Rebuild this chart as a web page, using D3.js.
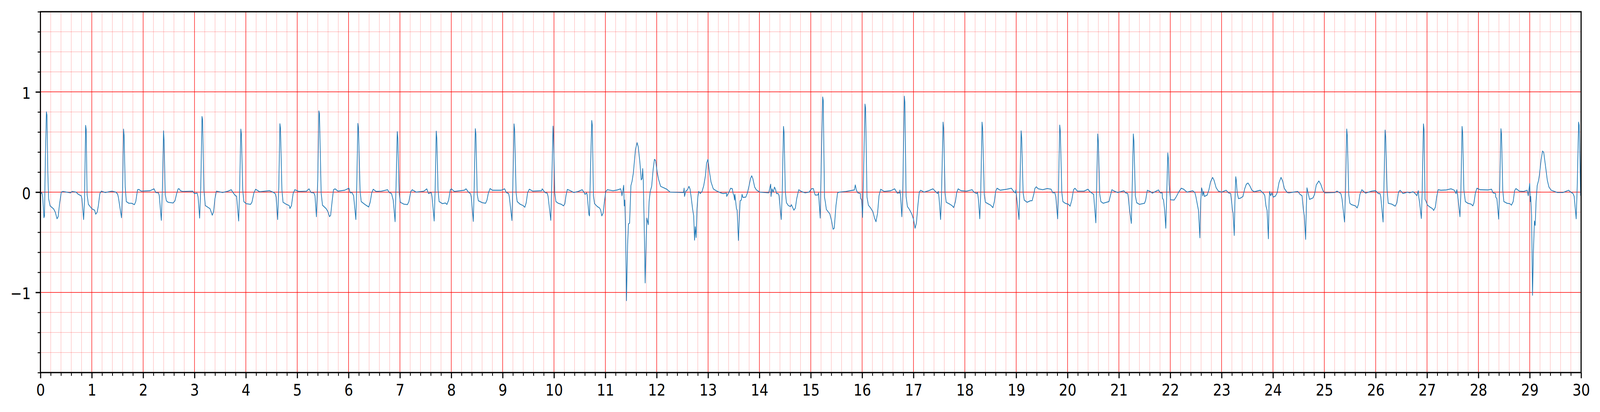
<!DOCTYPE html>
<html lang="en">
<head>
<meta charset="UTF-8">
<title>ECG strip</title>
<style>
  * { margin: 0; padding: 0; }
  html, body { width: 100%; height: 100%; overflow: hidden; background: #fff; }
  svg { display: block; width: 100vw; height: 100vh; font-family: "DejaVu Sans", sans-serif; }
</style>
</head>
<body>
<svg id="chart" viewBox="0 0 4827 1055" preserveAspectRatio="none"></svg>
<script src="https://cdn.jsdelivr.net/npm/d3@7/dist/d3.min.js"></script>
<script>
const ecg00 = [[0.007,-0.014],[0.028,-0.004],[0.044,-0.05],[0.068,-0.255],[0.079,-0.237],[0.096,0.338],[0.116,0.801],[0.127,0.77],[0.144,0.194],[0.159,-0.065],[0.188,-0.137],[0.258,-0.168],[0.29,-0.201],[0.323,-0.266],[0.345,-0.245],[0.371,-0.122],[0.406,0],[0.437,0.007],[0.585,-0.007],[0.618,0.007],[0.694,0],[0.738,-0.022],[0.793,-0.036],[0.808,-0.065],
  [0.841,-0.273],[0.858,-0.09],[0.88,0.666],[0.891,0.626],[0.908,-0.022],[0.934,-0.122],[1.0,-0.165],[1.055,-0.18],[1.076,-0.22],[1.105,-0.2],[1.127,-0.137],[1.157,-0.014],[1.186,0.01],[1.262,-0.004],[1.393,0.01],[1.469,0],[1.502,-0.019],[1.517,-0.05],
  [1.579,-0.255],[1.601,0.05],[1.618,0.629],[1.629,0.568],[1.651,0.05],[1.672,-0.094],[1.721,-0.111],[1.776,-0.111],[1.83,-0.125],[1.856,-0.094],[1.891,0.024],[1.917,0.027],[1.961,0.01],[2.135,0.014],[2.212,0.033],[2.245,-0.004],[2.299,-0.007],[2.314,-0.036],
  [2.354,-0.281],[2.376,0.05],[2.397,0.612],[2.408,0.511],[2.43,-0.022],[2.452,-0.086],[2.485,-0.101],[2.583,-0.108],[2.62,-0.086],[2.649,-0.022],[2.681,0.033],[2.703,0.033],[2.725,0.014],[2.769,0.007],[2.965,0.01],[2.998,-0.014],[3.052,-0.01],[3.07,-0.05],
  [3.1,-0.259],[3.122,0.05],[3.146,0.755],[3.157,0.727],[3.183,0.022],[3.21,-0.134],[3.282,-0.158]];

const ecg03 = [[3.302,-0.165],[3.346,-0.23],[3.372,-0.194],[3.398,-0.065],[3.426,0.01],[3.546,-0.004],[3.655,0.01],[3.716,0.024],[3.754,-0.007],[3.797,-0.036],[3.819,-0.04],
  [3.86,-0.288],[3.88,0.05],[3.902,0.629],[3.913,0.583],[3.939,0.022],[3.961,-0.094],[4.004,-0.115],[4.092,-0.122],[4.118,-0.101],[4.157,-0.007],[4.19,0.029],[4.266,0.004],[4.462,0.014],[4.528,0],[4.571,-0.014],[4.589,-0.05],
  [4.619,-0.273],[4.641,0.05],[4.663,0.683],[4.674,0.64],[4.702,0.022],[4.724,-0.101],[4.79,-0.122],[4.844,-0.134],[4.859,-0.163],[4.888,-0.134],[4.92,-0.014],[4.953,0.024],[5.029,0.007],[5.182,0.01],[5.23,0.033],[5.269,-0.004],[5.324,-0.007],[5.346,-0.036],
  [5.374,-0.245],[5.4,0.122],[5.422,0.81],[5.433,0.784],[5.466,-0.007],[5.492,-0.13],[5.564,-0.165],[5.597,-0.194],[5.629,-0.245],[5.651,-0.23],[5.679,-0.094],[5.706,0.024],[5.738,0.033],[5.793,0.01],[5.924,0.019],[6.007,0.039],[6.033,-0.007],[6.066,-0.004],[6.098,-0.036],
  [6.142,-0.273],[6.159,0.05],[6.181,0.686],[6.192,0.64],[6.225,0.007],[6.246,-0.094],[6.316,-0.122],[6.392,-0.148],[6.421,-0.101],[6.451,-0.007],[6.48,0.029],[6.534,0.007]];

const ecg06 = [[6.639,0.01],[6.684,0.015],[6.76,0.024],[6.793,-0.004],[6.836,-0.014],[6.869,-0.079],
  [6.906,-0.295],[6.924,0.05],[6.948,0.604],[6.959,0.54],[6.985,-0.007],[7.007,-0.101],[7.076,-0.12],[7.146,-0.125],[7.174,-0.094],[7.212,0.007],[7.24,0.024],[7.316,0],[7.469,0.01],[7.523,0.033],[7.556,-0.014],[7.611,-0.004],[7.626,-0.05],
  [7.667,-0.288],[7.687,0.05],[7.707,0.609],[7.718,0.54],[7.742,0.022],[7.763,-0.094],[7.829,-0.115],[7.883,-0.108],[7.916,-0.122],[7.949,-0.079],[7.981,0.024],[8.003,0.033],[8.058,0.007],[8.254,0.019],[8.287,0.033],[8.341,-0.004],[8.374,-0.014],[8.389,-0.05],
  [8.429,-0.292],[8.446,0.05],[8.468,0.633],[8.479,0.583],[8.505,-0.022],[8.527,-0.086],[8.603,-0.105],[8.668,-0.111],[8.695,-0.079],[8.723,-0.007],[8.756,0.036],[8.8,0.019],[8.974,0.019],[9.039,0.033],[9.072,-0.004],[9.116,-0.014],[9.131,-0.05],
  [9.181,-0.283],[9.198,0.05],[9.222,0.681],[9.233,0.626],[9.262,-0.007],[9.283,-0.094],[9.344,-0.122],[9.399,-0.134],[9.432,-0.151],[9.458,-0.108],[9.486,-0.007],[9.519,0.029],[9.584,0.01],[9.759,0.014],[9.77,0.033],[9.825,-0.004],[9.868,-0.01],[9.885,-0.043],
  [9.938,-0.281],[9.955,0.05],[9.981,0.658],[9.989,0.597]];

const ecg10 = [[10.015,-0.007],[10.037,-0.094],[10.081,-0.111],[10.146,-0.122],[10.185,-0.137],[10.212,-0.115],[10.233,-0.036],[10.26,0.027],[10.299,0.019],[10.386,-0.004],[10.473,0.007],[10.55,0.024],[10.582,0],[10.604,-0.022],[10.637,-0.007],[10.648,-0.036],
  [10.68,-0.223],[10.691,-0.237],[10.709,0.194],[10.735,0.715],[10.746,0.669],[10.768,-0.036],[10.79,-0.115],[10.844,-0.144],[10.888,-0.158],[10.909,-0.18],[10.931,-0.237],[10.957,-0.209],[10.979,-0.108],[11.008,0.007],[11.04,0.024],[11.149,0.014],[11.237,0.022],[11.298,0.033],[11.313,0],[11.324,-0.036],[11.341,0.014],[11.357,0.068],[11.368,-0.137],[11.379,-0.079],[11.394,-0.381],[11.411,-1.083],[11.433,-0.525],[11.45,-0.317],[11.472,-0.309],[11.498,0.065],[11.52,0.108],[11.546,0.194],[11.586,0.424],[11.618,0.494],[11.64,0.453],[11.673,0.295],[11.699,0.122],[11.716,0.137],[11.727,0.235],[11.738,0.122],[11.756,-0.309],[11.775,-0.906],[11.793,-0.525],[11.808,-0.259],[11.836,-0.324],[11.852,-0.094],[11.874,0.007],[11.902,0.058],[11.93,0.223],[11.956,0.327],[11.978,0.317],[12.011,0.194],[12.039,0.122],[12.076,0.058],[12.196,0.029],[12.262,0],[12.523,-0.004],[12.534,0.04],[12.541,-0.043],[12.567,0.01],[12.6,0.024],[12.628,0.058],[12.65,0.029],[12.671,-0.05],[12.698,-0.165],[12.72,-0.237],[12.737,-0.479],[12.752,-0.345],[12.768,-0.453],[12.785,-0.165],[12.802,-0.043],[12.818,0.007],[12.85,-0.014],[12.883,0.007],[12.916,0.065],[12.949,0.165],[12.971,0.288],[12.997,0.327],[13.025,0.209],[13.058,0.101],[13.102,0.033],[13.157,0.014],[13.244,-0.007]];

const ecg13 = [[13.287,-0.014],[13.36,-0.01],[13.363,-0.043],[13.407,0],[13.44,0.039],[13.473,0.033],[13.488,-0.014],[13.505,-0.036],[13.516,-0.079],[13.522,-0.022],[13.538,-0.094],[13.553,-0.165],[13.566,-0.18],[13.592,-0.482],[13.61,-0.237],[13.625,-0.086],[13.647,-0.079],[13.662,-0.022],[13.679,-0.053],[13.734,-0.05],[13.767,-0.007],[13.799,0.065],[13.828,0.137],[13.85,0.163],[13.871,0.137],[13.908,0.05],[13.941,0.022],[14.007,0],[14.181,-0.007],[14.22,0.079],[14.226,-0.043],[14.246,0.033],[14.268,0],[14.294,0.05],[14.316,0.024],[14.334,-0.014],[14.366,-0.014],[14.382,-0.036],
  [14.425,-0.273],[14.443,-0.022],[14.469,0.655],[14.48,0.597],[14.504,0.007],[14.526,-0.105],[14.563,-0.134],[14.606,-0.144],[14.622,-0.125],[14.672,-0.18],[14.7,-0.158],[14.726,-0.065],[14.766,0.024],[14.814,0.007],[14.89,-0.007],[14.967,0],[15.014,0.033],[15.049,0.036],[15.086,-0.029],[15.136,-0.029],[15.152,-0.007],[15.162,-0.094],
  [15.184,-0.259],[15.206,0.338],[15.232,0.95],[15.243,0.914],[15.267,-0.05],[15.282,-0.094],[15.304,-0.173],[15.37,-0.216],[15.403,-0.281],[15.435,-0.37],[15.457,-0.36],[15.49,-0.137],[15.522,-0.007],[15.555,0],[15.686,0.007],[15.817,0.019],[15.85,0.022],[15.867,0.072],[15.887,0.022],[15.915,-0.007],[15.966,-0.014],[15.968,-0.058],[15.99,-0.079],
  [16.008,-0.252],[16.025,0.122],[16.056,0.878],[16.067,0.842],[16.095,-0.05],[16.122,-0.13],[16.165,-0.158],[16.209,-0.194],[16.242,-0.259],[16.27,-0.295],[16.301,-0.209],[16.329,-0.036],[16.362,0.029],[16.427,0.007],[16.558,0.014],[16.634,0.033],[16.667,0.005]];

const ecg16 = [[16.682,-0.01],[16.73,-0.007],[16.735,0.02],[16.747,-0.029],
  [16.773,-0.245],[16.791,-0.022],[16.821,0.957],[16.832,0.9],[16.856,-0.043],[16.882,-0.144],[16.921,-0.173],[16.965,-0.216],[16.998,-0.266],[17.031,-0.36],[17.057,-0.309],[17.085,-0.137],[17.113,0],[17.14,0.019],[17.205,0],[17.292,0.014],[17.379,0.033],[17.423,0.01],[17.467,-0.014],[17.484,0.007],[17.499,-0.065],
  [17.528,-0.273],[17.543,-0.09],[17.576,0.698],[17.587,0.64],[17.615,-0.007],[17.637,-0.101],[17.707,-0.12],[17.75,-0.134],[17.783,-0.154],[17.816,-0.094],[17.844,0],[17.87,0.033],[17.925,0.014],[18.034,0.01],[18.143,0.024],[18.176,0],[18.23,-0.014],[18.245,0],[18.263,-0.065],
  [18.291,-0.266],[18.309,-0.022],[18.335,0.698],[18.346,0.64],[18.378,-0.022],[18.4,-0.101],[18.448,-0.115],[18.503,-0.13],[18.546,-0.155],[18.575,-0.094],[18.601,0.01],[18.627,0.039],[18.688,0.019],[18.819,0.029],[18.906,0.039],[18.95,0.007],[18.983,-0.007],[18.996,0.022],[19.008,-0.05],
  [19.055,-0.273],[19.072,0.05],[19.096,0.612],[19.107,0.54],[19.135,-0.007],[19.157,-0.079],[19.212,-0.101],[19.277,-0.086],[19.31,-0.086],[19.342,-0.022],[19.364,0.036],[19.39,0.053],[19.43,0.033],[19.517,0.024],[19.604,0.036],[19.68,0.029],[19.713,-0.007],[19.752,-0.004],[19.772,-0.05],
  [19.807,-0.266],[19.822,-0.022],[19.848,0.669],[19.859,0.612],[19.888,0],[19.909,-0.094],[19.953,-0.111],[20.019,-0.122]];

const ecg20 = [[20.05,-0.14],[20.083,-0.079],[20.115,0.022],[20.144,0.039],[20.192,0.01],[20.322,0.01],[20.399,0.029],[20.431,0.007],[20.486,-0.014],[20.508,-0.022],
  [20.529,-0.165],[20.551,-0.306],[20.566,0.05],[20.588,0.58],[20.599,0.511],[20.627,-0.022],[20.649,-0.094],[20.693,-0.111],[20.758,-0.101],[20.806,-0.094],[20.834,-0.036],[20.863,0.024],[20.911,0.01],[20.976,-0.004],[21.096,0.014],[21.129,-0.007],[21.172,-0.014],[21.183,-0.05],
  [21.205,-0.165],[21.242,-0.312],[21.259,0.05],[21.281,0.58],[21.292,0.511],[21.32,-0.036],[21.346,-0.105],[21.401,-0.122],[21.499,-0.111],[21.521,-0.079],[21.553,0.019],[21.608,0.007],[21.651,-0.01],[21.771,0.022],[21.804,-0.007],[21.843,-0.007],[21.847,-0.058],[21.869,-0.079],[21.891,-0.18],
  [21.913,-0.36],[21.935,0.05],[21.952,0.391],[21.963,0.338],[21.978,0.079],[22.004,-0.076],[22.076,-0.079],[22.12,-0.043],[22.163,0],[22.214,0.039],[22.261,0.029],[22.327,0],[22.436,0.014],[22.479,-0.004],[22.501,-0.05],[22.527,-0.122],[22.549,-0.18],[22.577,-0.456],[22.593,-0.094],[22.61,0.043],[22.621,0.022],[22.632,-0.036],[22.649,0.007],[22.665,-0.043],[22.719,-0.029],[22.752,0.022],[22.784,0.101],[22.824,0.147],[22.85,0.122],[22.894,0.043],[22.937,0.01],[23.002,0],[23.089,0.019],[23.133,-0.007],[23.176,-0.014],[23.194,-0.094],[23.209,-0.173],[23.224,-0.209],[23.246,-0.432],[23.259,-0.094],[23.275,0.154],[23.285,0.122],[23.303,-0.007],[23.329,-0.065],[23.373,-0.058]];

const ecg23 = [[23.416,-0.043],[23.449,0.033],[23.481,0.079],[23.514,0.091],[23.547,0.065],[23.59,0.019],[23.634,0.004],[23.754,0.019],[23.786,0],[23.819,-0.014],[23.841,-0.036],[23.863,-0.137],[23.885,-0.18],[23.911,-0.465],[23.924,-0.094],[23.935,0.007],[23.956,-0.036],[23.978,-0.007],[24.004,-0.05],[24.048,-0.039],[24.081,-0.007],[24.118,0.096],[24.157,0.147],[24.19,0.108],[24.222,0.036],[24.277,-0.004],[24.309,-0.007],[24.484,0.007],[24.527,-0.022],[24.566,-0.036],[24.593,-0.18],[24.61,-0.237],[24.636,-0.471],[24.649,-0.165],[24.662,0.043],[24.684,-0.007],[24.712,-0.072],[24.778,-0.058],[24.81,-0.022],[24.843,0.072],[24.893,0.112],[24.93,0.079],[24.974,0.014],[25.007,-0.007],[25.203,-0.004],[25.247,0.01],[25.322,-0.014],[25.344,-0.065],
  [25.394,-0.298],[25.414,0.05],[25.436,0.63],[25.447,0.568],[25.475,-0.022],[25.497,-0.111],[25.529,-0.125],[25.606,-0.137],[25.638,-0.158],[25.664,-0.122],[25.693,-0.022],[25.73,0.024],[25.802,-0.01],[25.922,0.01],[25.998,0.014],[26.052,-0.014],[26.085,-0.014],[26.1,-0.05],
  [26.144,-0.298],[26.161,0.05],[26.183,0.619],[26.194,0.554],[26.222,0.022],[26.244,-0.111],[26.314,-0.12],[26.379,-0.14],[26.412,-0.108],[26.444,0],[26.475,0.019],[26.531,-0.014],[26.619,0],[26.662,-0.007],[26.728,0.004]];

const ecg26 = [[26.769,-0.014],[26.802,-0.036],[26.83,0.014],[26.839,-0.05],[26.856,-0.108],
  [26.889,-0.263],[26.904,-0.022],[26.93,0.681],[26.941,0.626],[26.961,-0.072],[26.976,-0.086],[27.009,-0.13],[27.063,-0.151],[27.107,-0.165],[27.129,-0.183],[27.161,-0.151],[27.187,-0.05],[27.216,0.024],[27.27,0.019],[27.379,0.022],[27.467,0.033],[27.532,0.019],[27.565,-0.014],[27.58,0.024],[27.597,-0.036],
  [27.641,-0.245],[27.658,-0.022],[27.682,0.655],[27.693,0.597],[27.717,0.022],[27.746,-0.094],[27.794,-0.111],[27.859,-0.12],[27.892,-0.137],[27.913,-0.108],[27.942,-0.007],[27.972,0.039],[28.033,0.024],[28.186,0.022],[28.256,0.029],[28.284,-0.007],[28.334,-0.014],[28.338,-0.05],[28.36,-0.065],
  [28.395,-0.269],[28.415,0.05],[28.439,0.633],[28.45,0.583],[28.474,0.022],[28.496,-0.094],[28.557,-0.111],[28.611,-0.115],[28.644,-0.13],[28.677,-0.094],[28.705,0.014],[28.731,0.036],[28.797,0.01],[28.884,0.007],[28.949,0.019],[28.971,-0.036],[29.0,0.086],[29.01,-0.094],[29.019,-0.043],[29.036,-0.237],[29.054,-1.029],[29.071,-0.597],[29.091,-0.288],[29.106,-0.331],[29.123,-0.094],[29.145,0.065],[29.171,0.115],[29.189,0.173],[29.221,0.324],[29.25,0.41],[29.272,0.396],[29.309,0.252],[29.341,0.122],[29.374,0.05],[29.418,0.019],[29.538,-0.004],[29.647,-0.004],[29.756,0.019],[29.8,0],[29.843,-0.014],[29.865,-0.043],
  [29.904,-0.266],[29.924,0.05],[29.952,0.698],[29.963,0.669],[29.991,-0.036]];

const xTicks = [0,1,2,3,4,5,6,7,8,9,10,11,12,13,14,15,16,17,18,19,20,21,22,23,24,25,26,27,28,29,30];
const yTicks = [-1, 0, 1];
const xDomain = [0, 30];
const yDomain = [-1.8, 1.8];

// ---- layout (drawn in a 4827 x 1055 user space, stretched to the window) ----
const W = 4827, H = 1055;
const margin = {left: 122, right: 57, top: 30, bottom: 101};
const pt = 300 / 72; // figure drawn at 300 dpi
const fontPx = 10 * pt;

const svg = d3.select("#chart");
svg.append("rect").attr("width", W).attr("height", H).attr("fill", "#fff");

const x = d3.scaleLinear().domain(xDomain).range([margin.left, W - margin.right]);
const y = d3.scaleLinear().domain(yDomain).range([H - margin.bottom, margin.top]);

const xMinor = d3.range(0, 151).map(i => i / 5).filter(v => !xTicks.includes(v));
const yMinor = d3.range(-9, 10).map(i => i / 5).filter(v => !yTicks.includes(v));

// grid
const grid = svg.append("g");
grid.selectAll(".vmin").data(xMinor).enter().append("line")
  .attr("x1", d => x(d)).attr("x2", d => x(d))
  .attr("y1", y.range()[0]).attr("y2", y.range()[1])
  .attr("stroke", "#ff0000").attr("stroke-opacity", 0.3).attr("stroke-width", 1.3);
grid.selectAll(".hmin").data(yMinor).enter().append("line")
  .attr("y1", d => y(d)).attr("y2", d => y(d))
  .attr("x1", x.range()[0]).attr("x2", x.range()[1])
  .attr("stroke", "#ff0000").attr("stroke-opacity", 0.3).attr("stroke-width", 1.3);
grid.selectAll(".vmaj").data(xTicks).enter().append("line")
  .attr("x1", d => x(d)).attr("x2", d => x(d))
  .attr("y1", y.range()[0]).attr("y2", y.range()[1])
  .attr("stroke", "#ff0000").attr("stroke-width", 1.5);
grid.selectAll(".hmaj").data(yTicks).enter().append("line")
  .attr("y1", d => y(d)).attr("y2", d => y(d))
  .attr("x1", x.range()[0]).attr("x2", x.range()[1])
  .attr("stroke", "#ff0000").attr("stroke-width", 1.5);

// signal
const signal = [].concat(ecg00, ecg03, ecg06, ecg10, ecg13, ecg16, ecg20, ecg23, ecg26);
const line = d3.line().x(d => x(d[0])).y(d => y(d[1]));
svg.append("defs").append("clipPath").attr("id", "plot")
  .append("rect").attr("x", margin.left).attr("y", margin.top)
  .attr("width", x.range()[1] - x.range()[0]).attr("height", y.range()[0] - y.range()[1]);
svg.append("path")
  .datum(signal)
  .attr("clip-path", "url(#plot)")
  .attr("d", line)
  .attr("fill", "none")
  .attr("stroke", "#1f77b4")
  .attr("stroke-width", 0.5 * pt)
  .attr("stroke-linejoin", "round");

// axes
function styleAxis(g, w) {
  g.select(".domain").remove();
  g.selectAll(".tick line").attr("stroke", "#000").attr("stroke-width", w);
  g.selectAll("text").attr("fill", "#000").attr("font-size", fontPx)
    .attr("font-family", "DejaVu Sans, sans-serif");
}

const xMinorAxis = svg.append("g").attr("transform", `translate(0,${y.range()[0]})`)
  .call(d3.axisBottom(x).tickValues(xMinor).tickSize(2 * pt).tickFormat(""));
styleAxis(xMinorAxis, 0.6 * pt);
const xAxis = svg.append("g").attr("transform", `translate(0,${y.range()[0]})`)
  .call(d3.axisBottom(x).tickValues(xTicks).tickSize(3.5 * pt).tickPadding(3.5 * pt).tickFormat(d3.format("d")));
styleAxis(xAxis, 0.8 * pt);

const yMinorAxis = svg.append("g").attr("transform", `translate(${x.range()[0]},0)`)
  .call(d3.axisLeft(y).tickValues(yMinor.concat([-1.8, 1.8]).filter((v, i, a) => a.indexOf(v) === i)).tickSize(2 * pt).tickFormat(""));
styleAxis(yMinorAxis, 0.6 * pt);
const yAxis = svg.append("g").attr("transform", `translate(${x.range()[0]},0)`)
  .call(d3.axisLeft(y).tickValues(yTicks).tickSize(3.5 * pt).tickPadding(3.5 * pt).tickFormat(d3.format("d")));
styleAxis(yAxis, 0.8 * pt);
yAxis.selectAll("text").attr("dy", "0.41em");

// spines
svg.append("rect")
  .attr("x", x.range()[0]).attr("y", y.range()[1])
  .attr("width", x.range()[1] - x.range()[0]).attr("height", y.range()[0] - y.range()[1])
  .attr("fill", "none").attr("stroke", "#000").attr("stroke-width", 0.8 * pt)
  .attr("stroke-linejoin", "miter");
</script>
</body>
</html>
